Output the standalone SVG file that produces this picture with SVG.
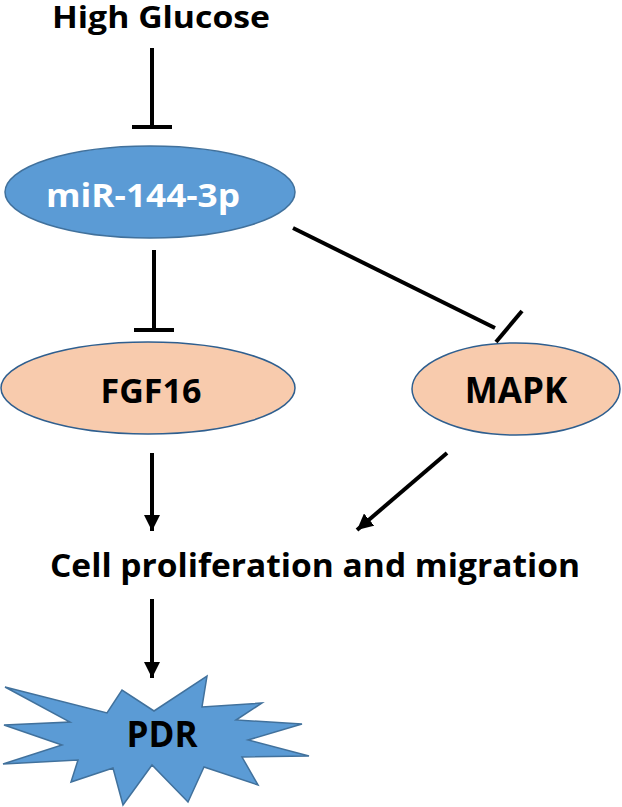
<svg xmlns="http://www.w3.org/2000/svg" width="622" height="807" viewBox="0 0 622 807">
<defs>
<style>
text{font-family:"Open Sans","Liberation Sans",Arial,sans-serif;font-weight:bold;text-anchor:middle;}
.lbl{fill:#000;}
.wht{fill:#fff;}
.blue{fill:#5b9bd5;stroke:#41719c;stroke-width:1.5;}
.peach{fill:#f8cbad;stroke:#2f5f8f;stroke-width:1.5;}
.ln{stroke:#000;stroke-width:4;fill:none;}
</style>
<marker id="arr" viewBox="0 0 10 10" refX="10" refY="5" markerWidth="4" markerHeight="4" markerUnits="strokeWidth" orient="auto">
<path d="M0,0 L10,5 L0,10 Z" fill="#000"/>
</marker>
</defs>
<rect width="622" height="807" fill="#fff"/>
<g id="high-glucose"><text class="lbl" x="161" y="28" font-size="31" textLength="218" lengthAdjust="spacingAndGlyphs">High Glucose</text></g>
<g id="mir"><ellipse class="blue" cx="150" cy="192" rx="145" ry="46"/><text class="wht" x="143" y="207" font-size="33" textLength="194" lengthAdjust="spacingAndGlyphs">miR-144-3p</text></g>
<g id="fgf16"><ellipse class="peach" cx="148" cy="388" rx="147" ry="46"/><text class="lbl" x="151" y="403" font-size="34">FGF16</text></g>
<g id="mapk"><ellipse class="peach" cx="516" cy="389" rx="104" ry="46"/><text class="lbl" x="516" y="403" font-size="35">MAPK</text></g>
<g id="cell"><text class="lbl" x="315" y="577" font-size="32" textLength="530" lengthAdjust="spacingAndGlyphs">Cell proliferation and migration</text></g>
<g id="pdr"><polygon class="blue" points="5,687 107,713 122,690 154,711 207,676 202,707 262,703 236,720 302,724 248,740 309,756 242,757 258,785 204,767 188,802 152,765 123,805 113,768 71,782 78,760 3,764 62,745 4,725 70,722"/><text class="lbl" x="162" y="747" font-size="35">PDR</text></g>
<g id="connectors">
<line class="ln" x1="152" y1="48" x2="152" y2="127"/><line class="ln" x1="132" y1="127" x2="172" y2="127"/>
<line class="ln" x1="154" y1="250" x2="154" y2="330"/><line class="ln" x1="134" y1="330" x2="174" y2="330"/>
<line class="ln" x1="293" y1="228" x2="495" y2="328"/><line class="ln" x1="496" y1="342" x2="522" y2="311"/>
<line class="ln" x1="152" y1="453" x2="152" y2="531" marker-end="url(#arr)"/>
<line class="ln" x1="447" y1="453" x2="357" y2="530" marker-end="url(#arr)"/>
<line class="ln" x1="152" y1="599" x2="152" y2="678" marker-end="url(#arr)"/>
</g>
</svg>
